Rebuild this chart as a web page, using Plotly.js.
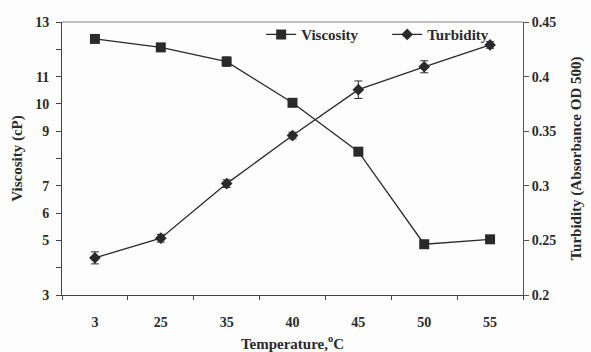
<!DOCTYPE html>
<html>
<head>
<meta charset="utf-8">
<script src="https://cdn.plot.ly/plotly-3.0.1.min.js"></script>
<style>html,body{margin:0;padding:0;background:#fdfdfd;}#chart{width:591px;height:352px;}</style>
</head>
<body>
<div id="chart"></div>
<script>
const temperatures = ["3", "25", "35", "40", "45", "50", "55"];
const viscosity = [12.38, 12.07, 11.55, 10.04, 8.25, 4.86, 5.04];
const viscosityErr = [0.05, 0.12, 0.17, 0.08, 0.08, 0.05, 0.05];
const turbidity = [0.234, 0.252, 0.302, 0.346, 0.388, 0.409, 0.429];
const turbidityErr = [0.0055, 0.0035, 0.0035, 0.003, 0.008, 0.0055, 0.003];
const leftTicks = [3, 4, 5, 6, 7, 8, 9, 10, 11, 12, 13];
const leftTickText = ["3", "", "5", "6", "7", "", "9", "10", "11", "", "13"];
const rightTicks = [0.2, 0.25, 0.3, 0.35, 0.4, 0.45];
const rightTickText = ["0.2", "0.25", "0.3", "0.35", "0.4", "0.45"];

const F = "Liberation Serif";
const dark = "#2a2a2a";

const traces = [
  {
    x: temperatures, y: viscosity, name: "Viscosity", type: "scatter", mode: "lines+markers",
    line: {color: dark, width: 1.3},
    marker: {symbol: "square", size: 10, color: dark},
    error_y: {type: "data", array: viscosityErr, visible: true, color: dark, thickness: 1, width: 4},
    xaxis: "x", yaxis: "y"
  },
  {
    x: temperatures, y: turbidity, name: "Turbidity", type: "scatter", mode: "lines+markers",
    line: {color: dark, width: 1.3},
    marker: {symbol: "diamond", size: 9, color: dark},
    error_y: {type: "data", array: turbidityErr, visible: true, color: dark, thickness: 1, width: 4},
    xaxis: "x", yaxis: "y2"
  }
];

const layout = {
  width: 591, height: 352,
  margin: {l: 62, r: 68, t: 22, b: 57},
  paper_bgcolor: "#fdfdfd", plot_bgcolor: "#fdfdfd",
  font: {family: F, size: 14, color: dark, weight: "bold"},
  showlegend: true,
  legend: {
    orientation: "h", x: 0.432, y: 1.014, xanchor: "left", yanchor: "top",
    bgcolor: "rgba(0,0,0,0)", font: {family: F, size: 15, color: dark, weight: "bold"},
    entrywidth: 81, entrywidthmode: "pixels", tracegroupgap: 0
  },
  xaxis: {
    type: "category", range: [-0.5, 6.5], tickson: "boundaries",
    ticks: "outside", ticklen: 4, tickcolor: "#444", tickwidth: 1,
    showline: true, linecolor: "#444", linewidth: 1, showgrid: false, zeroline: false,
    tickfont: {family: F, size: 14, color: dark, weight: "bold"},
    ticklabelstandoff: 14,
    title: {text: "Temperature,<sup>o</sup>C", font: {family: F, size: 15, color: dark, weight: "bold"}, standoff: 9}
  },
  yaxis: {
    range: [3, 13], tickvals: leftTicks, ticktext: leftTickText,
    ticks: "outside", ticklen: 5, tickcolor: "#444", tickwidth: 1,
    showline: true, linecolor: "#444", linewidth: 1, showgrid: false, zeroline: false,
    tickfont: {family: F, size: 14, color: dark, weight: "bold"},
    ticklabelstandoff: 4,
    title: {text: "Viscosity (cP)", font: {family: F, size: 15, color: dark, weight: "bold"}, standoff: 8}
  },
  yaxis2: {
    range: [0.2, 0.45], tickvals: rightTicks, ticktext: rightTickText,
    overlaying: "y", side: "right", anchor: "x",
    ticks: "outside", ticklen: 5, tickcolor: "#555", tickwidth: 1,
    showline: true, linecolor: "#555", linewidth: 1, showgrid: false, zeroline: false,
    tickfont: {family: F, size: 14, color: dark, weight: "bold"},
    title: {text: "Turbidity (Absorbance OD 500)", font: {family: F, size: 15, color: dark, weight: "bold"}, standoff: 15}
  },
  yaxis3: {
    range: [0.2, 0.45], tickvals: rightTicks, showticklabels: false,
    overlaying: "y", side: "right", anchor: "x",
    ticks: "inside", ticklen: 5, tickcolor: "#555", tickwidth: 1,
    showline: false, showgrid: false, zeroline: false
  },
  shapes: [
    {type: "line", xref: "paper", yref: "paper", x0: 0, x1: 1, y0: 1, y1: 1, line: {color: "#aaaaaa", width: 1.5}}
  ]
};

Plotly.newPlot("chart", traces, layout, {displayModeBar: false, staticPlot: true});
</script>
</body>
</html>
